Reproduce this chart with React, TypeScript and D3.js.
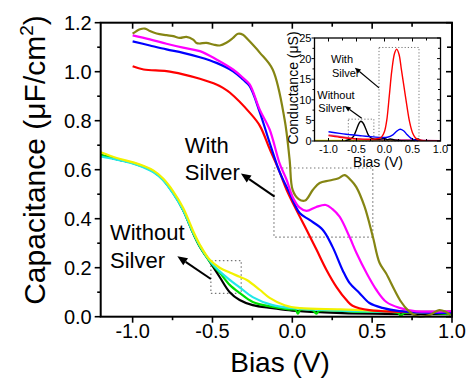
import React from "react";
import * as d3 from "d3";

type P = [number, number];

// ---------- main plot data (Bias V, Capacitance uF/cm2) ----------
const olive: P[] = [[-1.0,1.155],[-0.954,1.173],[-0.923,1.176],[-0.892,1.166],[-0.85,1.156],[-0.787,1.149],[-0.746,1.145],[-0.704,1.138],[-0.663,1.142],[-0.621,1.131],[-0.6,1.117],[-0.58,1.115],[-0.538,1.118],[-0.496,1.111],[-0.454,1.107],[-0.413,1.118],[-0.371,1.138],[-0.34,1.155],[-0.309,1.151],[-0.278,1.131],[-0.204,1.078],[-0.123,1.009],[-0.048,0.804],[-0.017,0.641],[0.002,0.518],[0.04,0.48],[0.08,0.474],[0.129,0.518],[0.171,0.546],[0.233,0.556],[0.29,0.565],[0.327,0.578],[0.37,0.555],[0.40,0.53],[0.452,0.45],[0.504,0.327],[0.546,0.22],[0.587,0.177],[0.64,0.109],[0.681,0.061],[0.723,0.027],[0.764,0.007],[0.796,0.0],[0.858,0.007],[0.92,0.027],[0.96,0.02],[0.99,0.007]];
const magenta: P[] = [[-1.0,1.148],[-0.892,1.132],[-0.788,1.114],[-0.684,1.098],[-0.579,1.084],[-0.475,1.05],[-0.371,1.009],[-0.309,0.975],[-0.267,0.948],[-0.204,0.845],[-0.142,0.764],[-0.079,0.625],[-0.036,0.559],[0.002,0.489],[0.046,0.445],[0.089,0.432],[0.15,0.448],[0.21,0.456],[0.25,0.44],[0.296,0.408],[0.358,0.326],[0.402,0.26],[0.464,0.179],[0.527,0.109],[0.589,0.06],[0.671,0.036],[0.777,0.022],[1.0,0.023]];
const blue: P[] = [[-1.0,1.124],[-0.892,1.107],[-0.788,1.091],[-0.684,1.077],[-0.579,1.059],[-0.475,1.036],[-0.371,1.002],[-0.309,0.968],[-0.267,0.941],[-0.204,0.835],[-0.142,0.71],[-0.079,0.59],[-0.017,0.505],[0.046,0.423],[0.108,0.395],[0.19,0.355],[0.252,0.285],[0.315,0.19],[0.358,0.138],[0.42,0.097],[0.483,0.056],[0.564,0.036],[0.671,0.023],[1.0,0.015]];
const red: P[] = [[-1.0,1.022],[-0.931,1.009],[-0.788,1.002],[-0.684,0.989],[-0.579,0.971],[-0.475,0.948],[-0.434,0.934],[-0.392,0.915],[-0.267,0.833],[-0.204,0.78],[-0.142,0.685],[-0.079,0.59],[-0.036,0.518],[0.025,0.436],[0.089,0.355],[0.152,0.273],[0.214,0.191],[0.277,0.121],[0.339,0.068],[0.377,0.045],[0.483,0.027],[1.0,0.02]];

const black: P[] = [[-1.2,0.66],[-1.1,0.643],[-0.996,0.627],[-0.934,0.613],[-0.871,0.593],[-0.809,0.559],[-0.746,0.505],[-0.684,0.436],[-0.621,0.341],[-0.579,0.286],[-0.517,0.225],[-0.455,0.162],[-0.392,0.10],[-0.33,0.068],[-0.248,0.047],[-0.123,0.035],[0.0,0.025],[0.2,0.018],[0.5,0.012],[1.0,0.01]];
const green: P[] = [[-1.2,0.66],[-1.1,0.643],[-0.996,0.627],[-0.934,0.613],[-0.871,0.593],[-0.809,0.559],[-0.746,0.505],[-0.684,0.436],[-0.621,0.341],[-0.579,0.286],[-0.517,0.225],[-0.455,0.18],[-0.392,0.13],[-0.33,0.097],[-0.248,0.06],[-0.123,0.04],[-0.02,0.03],[0.02,0.028],[0.035,0.012],[0.05,0.028],[0.13,0.025],[0.15,0.012],[0.17,0.024],[0.4,0.02],[0.66,0.016],[0.68,0.004],[0.70,0.015],[1.0,0.01]];
const cyan: P[] = [[-1.2,0.654],[-1.1,0.641],[-0.996,0.625],[-0.934,0.61],[-0.871,0.59],[-0.809,0.557],[-0.746,0.502],[-0.684,0.435],[-0.621,0.343],[-0.579,0.289],[-0.517,0.228],[-0.455,0.185],[-0.392,0.15],[-0.33,0.12],[-0.248,0.08],[-0.123,0.047],[0.0,0.035],[0.3,0.025],[0.7,0.02],[1.0,0.02]];
const yellow: P[] = [[-1.2,0.671],[-1.1,0.648],[-0.996,0.63],[-0.934,0.616],[-0.871,0.597],[-0.809,0.564],[-0.746,0.512],[-0.684,0.445],[-0.621,0.35],[-0.579,0.294],[-0.517,0.232],[-0.455,0.2],[-0.392,0.18],[-0.33,0.163],[-0.285,0.15],[-0.204,0.11],[-0.142,0.077],[-0.048,0.047],[0.046,0.035],[0.3,0.03],[0.5,0.025],[0.7,0.02],[1.0,0.015]];

// ---------- inset data (Bias V, Conductance uS) ----------
const insRed: P[] = [[-1.0,1.3],[-0.8,0.9],[-0.6,0.6],[-0.4,0.45],[-0.2,0.45],[-0.1,0.6],[-0.05,1.0],[0.0,2.3],[0.04,5],[0.086,11],[0.13,17],[0.18,21.3],[0.218,22.3],[0.26,21],[0.3,17.5],[0.35,13],[0.4,8.5],[0.45,4.5],[0.5,2],[0.55,0.8],[0.6,0.3],[0.7,0.05],[1.0,0]];
const insMagenta: P[] = [[-1.0,1.5],[-0.8,1.1],[-0.6,0.7],[-0.4,0.4],[-0.2,0.3],[0.0,0.3],[0.3,0.3],[0.6,0.3],[0.7,0.2],[1.0,0.1]];
const insBlue: P[] = [[-1.0,2.25],[-0.8,1.85],[-0.6,1.5],[-0.4,1.25],[-0.2,1.0],[-0.05,0.85],[0.05,0.9],[0.15,1.5],[0.22,2.4],[0.28,2.85],[0.34,2.5],[0.4,1.6],[0.47,0.7],[0.55,0.2],[0.65,0.05],[1.0,0]];
const insBlack: P[] = [[-0.7,0.1],[-0.6,0.5],[-0.55,1.2],[-0.5,2.8],[-0.45,4.4],[-0.42,4.8],[-0.38,4.3],[-0.33,2.8],[-0.28,1.3],[-0.22,0.6],[-0.1,0.4],[0.0,0.6],[0.05,0.3],[0.1,0.5],[0.2,0.2],[0.5,0.1],[0.6,0.5],[0.65,0.1],[1.0,0]];
const insGreen: P[] = [[-1.25,0.1],[-0.5,0.05],[0.0,0.05],[1.0,0.0]];
const insYellow: P[] = [[-1.25,0.15],[-0.5,0.1],[0.0,0.05],[1.0,0.05]];

// ---------- ticks ----------
const xMajor = [-1.0, -0.5, 0.0, 0.5, 1.0];
const xMajorLabels = ["-1.0", "-0.5", "0.0", "0.5", "1.0"];
const xMinor = [-0.75, -0.25, 0.25, 0.75];
const yMajor = [0, 0.2, 0.4, 0.6, 0.8, 1.0, 1.2];
const yMajorLabels = ["0.0", "0.2", "0.4", "0.6", "0.8", "1.0", "1.2"];
const yMinor = [0.1, 0.3, 0.5, 0.7, 0.9, 1.1];
const insYMajor = [0, 5, 10, 15, 20, 25];
const insYMinor = [2.5, 7.5, 12.5, 17.5, 22.5];

// annotations in data units
const boxWith = { x0: -0.115, x1: 0.504, y0: 0.325, y1: 0.607 };
const boxWithout = { x0: -0.51, x1: -0.32, y0: 0.095, y1: 0.229 };
const insBoxWith = { x0: -0.098, x1: 0.616, y0: 0, y1: 22.7 };
const insBoxWithout = { x0: -0.646, x1: -0.19, y0: 0, y1: 5.3 };

const FONT = "'Liberation Sans', Arial, Helvetica, sans-serif";

function Arrow({ x1, y1, x2, y2, w, head }: { x1: number; y1: number; x2: number; y2: number; w: number; head: number }) {
  const ang = Math.atan2(y2 - y1, x2 - x1);
  const L = head;
  const hw = head * 0.42;
  const bx = x2 - L * Math.cos(ang);
  const by = y2 - L * Math.sin(ang);
  const px = -Math.sin(ang), py = Math.cos(ang);
  return (
    <g>
      <line x1={x1} y1={y1} x2={bx} y2={by} stroke="#000" strokeWidth={w} />
      <polygon points={`${x2},${y2} ${bx + px * hw},${by + py * hw} ${bx - px * hw},${by - py * hw}`} fill="#000" />
    </g>
  );
}

export default function App() {
  const x = d3.scaleLinear().domain([-1.2, 1.0]).range([100.7, 452]);
  const y = d3.scaleLinear().domain([0, 1.2]).range([316.7, 22.7]);
  const line = d3.line<P>().x(d => x(d[0])).y(d => y(d[1])).curve(d3.curveCatmullRom.alpha(0.5));

  const xi = d3.scaleLinear().domain([-1.25, 1.0]).range([314.5, 440.5]);
  const yi = d3.scaleLinear().domain([0, 25]).range([141, 38]);
  const lineI = d3.line<P>().x(d => xi(d[0])).y(d => yi(d[1])).curve(d3.curveCatmullRom.alpha(0.5));

  const X0 = x(-1.2), X1 = x(1.0), Y0 = y(0), Y1 = y(1.2);
  const IX0 = xi(-1.25), IX1 = xi(1.0), IY0 = yi(0), IY1 = yi(25);

  const series: [P[], string][] = [
    [black, "#000000"], [green, "#00dd00"], [cyan, "#22e8e8"], [yellow, "#f2f200"],
    [red, "#ff0000"], [blue, "#0000ff"], [magenta, "#ff00ff"], [olive, "#858513"],
  ];
  const insSeries: [P[], string][] = [
    [insGreen, "#00cc00"], [insYellow, "#e8e800"], [insMagenta, "#d050a0"], [insBlack, "#000000"],
    [insBlue, "#0000ff"], [insRed, "#ff0000"],
  ];

  return (
    <svg width={468} height={379} style={{ position: "absolute", left: 0, top: 0, background: "#fff" }} fontFamily={FONT}>
      <rect x={0} y={0} width={468} height={379} fill="#fff" />
      {[boxWith, boxWithout].map((b, i) => (
        <rect key={i} x={x(b.x0)} y={y(b.y1)} width={x(b.x1) - x(b.x0)} height={y(b.y0) - y(b.y1)}
          fill="none" stroke="#777" strokeWidth={1.2} strokeDasharray="1.5,2.5" />
      ))}
      {series.map(([d, c], i) => (
        <path key={i} d={line(d) || ""} fill="none" stroke={c} strokeWidth={2.2} strokeLinejoin="round" />
      ))}
      <rect x={X0} y={Y1} width={X1 - X0} height={Y0 - Y1} fill="none" stroke="#000" strokeWidth={2} />
      {xMajor.map((v, i) => (
        <g key={"xm" + i}>
          <line x1={x(v)} x2={x(v)} y1={Y0} y2={Y0 + 6} stroke="#000" strokeWidth={1.6} />
          <line x1={x(v)} x2={x(v)} y1={Y1} y2={Y1 + 6} stroke="#000" strokeWidth={1.6} />
          <text x={x(v)} y={Y0 + 21} fontSize={20} textAnchor="middle">{xMajorLabels[i]}</text>
        </g>
      ))}
      {xMinor.map((v, i) => (
        <g key={"xn" + i}>
          <line x1={x(v)} x2={x(v)} y1={Y0} y2={Y0 + 3.5} stroke="#000" strokeWidth={1.6} />
          <line x1={x(v)} x2={x(v)} y1={Y1} y2={Y1 + 4} stroke="#000" strokeWidth={1.6} />
        </g>
      ))}
      {yMajor.map((v, i) => (
        <g key={"ym" + i}>
          <line x1={X0 - 6} x2={X0} y1={y(v)} y2={y(v)} stroke="#000" strokeWidth={1.6} />
          <line x1={X1 - 6} x2={X1} y1={y(v)} y2={y(v)} stroke="#000" strokeWidth={1.6} />
          <text x={X0 - 9} y={y(v) + 7} fontSize={20} textAnchor="end">{yMajorLabels[i]}</text>
        </g>
      ))}
      {yMinor.map((v, i) => (
        <g key={"yn" + i}>
          <line x1={X0 - 3.5} x2={X0} y1={y(v)} y2={y(v)} stroke="#000" strokeWidth={1.6} />
          <line x1={X1 - 5} x2={X1} y1={y(v)} y2={y(v)} stroke="#000" strokeWidth={1.6} />
        </g>
      ))}
      <text x={280} y={372} fontSize={28} textAnchor="middle">Bias (V)</text>
      <text transform={`translate(45,160) rotate(-90)`} fontSize={30} textAnchor="middle">
        Capacitance (μF/cm<tspan fontSize={19} dy={-12}>2</tspan><tspan dy={12}>)</tspan>
      </text>
      <text x={x(-0.673)} y={y(0.669)} fontSize={22}>With</text>
      <text x={x(-0.673)} y={y(0.559)} fontSize={22}>Silver</text>
      <text x={x(-1.142)} y={y(0.314)} fontSize={22}>Without</text>
      <text x={x(-1.142)} y={y(0.199)} fontSize={22}>Silver</text>
      <Arrow x1={x(-0.111)} y1={y(0.49)} x2={x(-0.322)} y2={y(0.585)} w={2} head={10} />
      <Arrow x1={x(-0.51)} y1={y(0.154)} x2={x(-0.72)} y2={y(0.247)} w={2} head={10} />

      <rect x={IX0} y={IY1} width={IX1 - IX0} height={IY0 - IY1} fill="#fff" />
      {[insBoxWith, insBoxWithout].map((b, i) => (
        <rect key={"ib" + i} x={xi(b.x0)} y={yi(b.y1)} width={xi(b.x1) - xi(b.x0)} height={yi(b.y0) - yi(b.y1)}
          fill="none" stroke="#777" strokeWidth={1} strokeDasharray="1.2,2" />
      ))}
      <defs>
        <clipPath id="insclip"><rect x={IX0} y={IY1} width={IX1 - IX0} height={IY0 - IY1} /></clipPath>
      </defs>
      <g clipPath="url(#insclip)">
        {insSeries.map(([d, c], i) => (
          <path key={i} d={lineI(d) || ""} fill="none" stroke={c} strokeWidth={1.4} />
        ))}
      </g>
      <rect x={IX0} y={IY1} width={IX1 - IX0} height={IY0 - IY1} fill="none" stroke="#000" strokeWidth={1.3} />
      {xMajor.map((v, i) => (
        <g key={"ixm" + i}>
          <line x1={xi(v)} x2={xi(v)} y1={IY0} y2={IY0 - 3} stroke="#000" strokeWidth={1} />
          <line x1={xi(v)} x2={xi(v)} y1={IY1} y2={IY1 + 3.5} stroke="#000" strokeWidth={1} />
          <text x={xi(v)} y={IY0 + 12} fontSize={11} textAnchor="middle">{xMajorLabels[i]}</text>
        </g>
      ))}
      {xMinor.map((v, i) => (
        <g key={"ixn" + i}>
          <line x1={xi(v)} x2={xi(v)} y1={IY0} y2={IY0 - 2} stroke="#000" strokeWidth={1} />
          <line x1={xi(v)} x2={xi(v)} y1={IY1} y2={IY1 + 2.5} stroke="#000" strokeWidth={1} />
        </g>
      ))}
      {insYMajor.map((v, i) => (
        <g key={"iym" + i}>
          <line x1={IX0 - 3} x2={IX0} y1={yi(v)} y2={yi(v)} stroke="#000" strokeWidth={1} />
          <line x1={IX1 - 3.5} x2={IX1} y1={yi(v)} y2={yi(v)} stroke="#000" strokeWidth={1} />
          <text x={IX0 - 3} y={yi(v) + 4} fontSize={11} textAnchor="end">{String(v)}</text>
        </g>
      ))}
      {insYMinor.map((v, i) => (
        <g key={"iyn" + i}>
          <line x1={IX0 - 2} x2={IX0} y1={yi(v)} y2={yi(v)} stroke="#000" strokeWidth={1} />
          <line x1={IX1 - 2.5} x2={IX1} y1={yi(v)} y2={yi(v)} stroke="#000" strokeWidth={1} />
        </g>
      ))}
      <text x={378} y={166.5} fontSize={14} textAnchor="middle">Bias (V)</text>
      <text transform={`translate(298,88) rotate(-90)`} fontSize={14} textAnchor="middle">Conductance (μS)</text>
      <text x={xi(-0.955)} y={yi(18.86)} fontSize={11}>With</text>
      <text x={xi(-0.937)} y={yi(15.6)} fontSize={11}>Silver</text>
      <text x={xi(-1.2)} y={yi(10.1)} fontSize={11}>Without</text>
      <text x={xi(-1.182)} y={yi(7.1)} fontSize={11}>Silver</text>
      <Arrow x1={xi(-0.098)} y1={yi(12.9)} x2={xi(-0.53)} y2={yi(17.8)} w={1.2} head={6} />
      <Arrow x1={xi(-0.407)} y1={yi(5.5)} x2={xi(-0.71)} y2={yi(8.5)} w={1.2} head={6} />
    </svg>
  );
}
